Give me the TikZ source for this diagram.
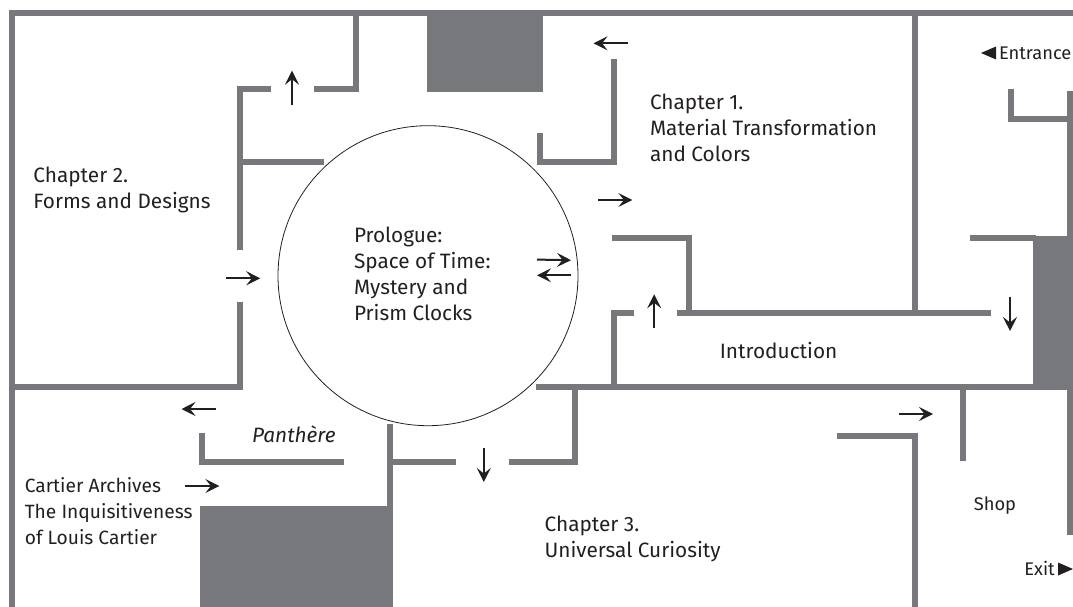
\documentclass[tikz,border=0pt]{standalone}
\usepackage{fontspec}
\setmainfont{Fira Sans}
\usetikzlibrary{arrows.meta}
\definecolor{wallgrey}{HTML}{77787B}
\definecolor{inkblack}{HTML}{231F20}
\tikzset{
  wall/.style={draw=wallgrey,line width=6pt,line cap=butt,line join=miter},
  solidblock/.style={fill=wallgrey,draw=none},
  flow/.style={draw=inkblack,line width=2pt,-{Stealth[length=14pt,width=14pt,inset=5.5pt]}},
  label/.style={anchor=base west,inner sep=0pt,outer sep=0pt,align=left,text=inkblack,font=\fontsize{20.8}{26}\selectfont},
  sidelabel/.style={label,font=\fontsize{19.2}{26}\selectfont},
  smalllabel/.style={label,font=\fontsize{18.3}{20}\selectfont},
  marker/.style={fill=inkblack,draw=none}
}
\begin{document}
\begin{tikzpicture}[x=1pt,y=-1pt]
\useasboundingbox (0,0) rectangle (1073,607);
% solid blocks
\fill[solidblock] (427,16) rectangle (543,91.7);
\fill[solidblock] (1033,236) rectangle (1073,390);
\fill[solidblock] (200,506) rectangle (393,607);
% outer walls
\draw[wall] (1073,13) -- (12,13) -- (12,607);
% chapter 2
\draw[wall] (356,13) -- (356,89) -- (314,89);
\draw[wall] (271,89) -- (240,89) -- (240,249.5);
\draw[wall] (240,162) -- (324,162);
\draw[wall] (240,302) -- (240,387) -- (12,387);
% chapter 1
\draw[wall] (540,133) -- (540,162) -- (614,162) -- (614,59.3);
\draw[wall] (612,238) -- (689,238) -- (689,313);
\draw[wall] (915,13) -- (915,313);
\draw[wall] (677,313) -- (991,313);
\draw[wall] (634,313) -- (614,313) -- (614,387);
\draw[wall] (536,387) -- (1040,387);
% entrance side
\draw[wall] (1011,89) -- (1011,119) -- (1070,119);
\draw[wall] (1070,91) -- (1070,236);
\draw[wall] (970,238) -- (1036,238);
\draw[wall] (1070,390) -- (1070,535);
% chapter 3
\draw[wall] (575,387) -- (575,462) -- (509,462);
\draw[wall] (456,462) -- (390,462);
\draw[wall] (390,424.3) -- (390,506);
\draw[wall] (202,433) -- (202,462) -- (344,462);
\draw[wall] (963,387) -- (963,461);
\draw[wall] (836.7,436) -- (915,436) -- (915,607);
% prologue circle
\node[circle,draw=inkblack,line width=0.8pt,minimum size=300pt,inner sep=0pt] (prologuecircle) at (428,275.7) {};
% arrows
\draw[flow] (292,104.7) -- (292,70.7);
\draw[flow] (627.8,43.3) -- (593.5,43.3);
\draw[flow] (598,200) -- (632.4,200);
\draw[flow] (226,278.3) -- (260.3,278.3);
\draw[flow] (537,259.6) -- (571,260.2);
\draw[flow] (571,275.3) -- (537,275.3);
\draw[flow] (654.2,328.3) -- (654.2,294.3);
\draw[flow] (1010,297) -- (1010,331);
\draw[flow] (215.6,409) -- (181.5,409);
\draw[flow] (185.3,486) -- (219.4,486);
\draw[flow] (483.8,448) -- (483.8,482);
\draw[flow] (898.8,414) -- (933,414);
% entrance and exit markers
\fill[marker] (981,53) -- (996,46.5) -- (996,59.5) -- cycle;
\fill[marker] (1073,569) -- (1058,562.5) -- (1058,575.5) -- cycle;
% labels (a node's base is that of its last line)
\node[label] (chapterone) at (650,161) {Chapter 1.\\Material Transformation\\and Colors};
\node[label] (chaptertwo) at (33.4,208) {Chapter 2.\\Forms and Designs};
\node[label] (prologue) at (354,320) {Prologue:\\Space of Time:\\Mystery and\\Prism Clocks};
\node[label] (introduction) at (719.8,358) {Introduction};
\node[label] (panthere) at (252,442.7) {\itshape Panthère};
\node[sidelabel] (archives) at (24.8,544) {Cartier Archives\\The Inquisitiveness\\of Louis Cartier};
\node[label] (chapterthree) at (544.6,557.7) {Chapter 3.\\Universal Curiosity};
\node[smalllabel] (shop) at (973.8,510) {Shop};
\node[smalllabel] (entrance) at (999,60) {Entrance};
\node[smalllabel] (exit) at (1024.4,575) {Exit};
\end{tikzpicture}
\end{document}
